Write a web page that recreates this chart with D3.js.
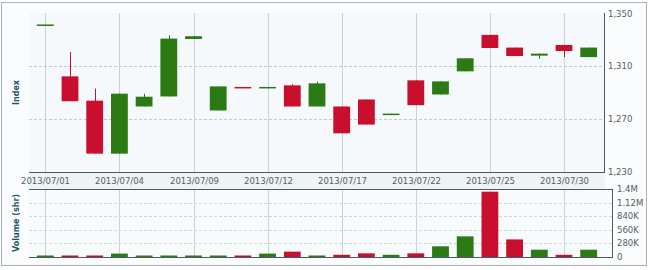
<!DOCTYPE html>
<html>
<head>
<meta charset="utf-8">
<script src="https://cdn.jsdelivr.net/npm/d3@7"></script>
<style>
  html, body { margin: 0; padding: 0; background: #fff; }
  svg { display: block; font-family: "DejaVu Sans", Verdana, sans-serif; }
</style>
</head>
<body>
<svg id="chart" width="650" height="270"></svg>
<script>
// trading days, July 2013
const dates = ['07/01','07/02','07/03','07/04','07/05','07/08','07/09','07/10','07/11','07/12',
  '07/15','07/16','07/17','07/18','07/19','07/22','07/23','07/24','07/25','07/26','07/29','07/30','07/31'];
const opens  = [1341.6,1302.4,1284.0,1243.9,1279.6,1287.2,1330.7,1276.6,1294.4,1294.2,
  1295.6,1279.6,1279.6,1284.9,1274.0,1299.4,1288.7,1306.2,1333.8,1324.2,1318.1,1326.2,1317.0];
const highs  = [1341.6,1320.8,1293.1,1289.3,1289.3,1333.5,1332.8,1294.8,1294.4,1294.4,
  1296.4,1298.4,1279.6,1284.9,1274.2,1299.4,1298.6,1316.1,1333.8,1324.2,1319.6,1326.2,1324.2];
const lows   = [1341.6,1283.6,1243.9,1243.9,1279.6,1287.2,1330.7,1276.6,1294.2,1294.2,
  1279.6,1279.6,1259.3,1265.9,1274.0,1280.6,1288.7,1306.2,1323.9,1317.8,1315.8,1317.0,1317.0];
const closes = [1341.7,1283.6,1243.9,1289.3,1287.0,1331.0,1332.8,1294.8,1294.2,1294.4,
  1279.6,1297.1,1259.3,1265.9,1274.2,1280.6,1298.6,1316.1,1323.9,1317.8,1319.6,1321.6,1324.2];
const volumes = [20e3,30e3,30e3,70e3,30e3,30e3,30e3,30e3,25e3,70e3,
  110e3,30e3,45e3,75e3,45e3,75e3,220e3,425e3,1345e3,362e3,150e3,45e3,150e3];

const priceTicks = [1230, 1270, 1310, 1350];
const volTicks = [0, 280e3, 560e3, 840e3, 1120e3, 1400e3];
const volLabels = ['0', '280K', '560K', '840K', '1.12M', '1.4M'];
const dateTicks = ['07/01','07/04','07/09','07/12','07/17','07/22','07/25','07/30'];

const RED = '#c8102e', GREEN = '#2b7a14';

const data = dates.map((d, i) => ({
  date: d, open: opens[i], high: highs[i], low: lows[i], close: closes[i], vol: volumes[i]
}));

const svg = d3.select('#chart');
const left = 29, right = 604, mainTop = 13, mainBot = 172, volTop = 189, volBot = 257, volRight = 612;

// frame + backgrounds
svg.append('rect').attr('x', 1.5).attr('y', 2.5).attr('width', 645).attr('height', 263)
  .attr('fill', '#fafcfd').attr('stroke', '#aab3b8');
svg.append('rect').attr('x', left).attr('y', mainTop).attr('width', right - left + 1).attr('height', mainBot - mainTop)
  .attr('fill', '#f5f9fb');
svg.append('rect').attr('x', left).attr('y', mainBot).attr('width', right - left + 1).attr('height', volTop - mainBot)
  .attr('fill', '#eef4f6');
svg.append('rect').attr('x', left).attr('y', volTop).attr('width', volRight - left).attr('height', volBot - volTop)
  .attr('fill', '#f8fbfc');

const x = d3.scaleBand().domain(dates).range([left, right + 1]).padding(0.32);
const y = d3.scaleLinear().domain([1230, 1350]).range([mainBot, mainTop + 0.5]);
const yv = d3.scaleLinear().domain([0, 1.4e6]).range([volBot, volTop]);
const cx = d => Math.round(x(d) + x.bandwidth() / 2) + 0.5;

// vertical grid
dateTicks.forEach(d => {
  svg.append('line').attr('x1', cx(d)).attr('x2', cx(d)).attr('y1', mainTop).attr('y2', mainBot)
    .attr('stroke', '#c6d3d9');
  svg.append('line').attr('x1', cx(d)).attr('x2', cx(d)).attr('y1', volTop).attr('y2', volBot)
    .attr('stroke', '#c6d3d9');
});

// horizontal dashed grid
priceTicks.slice(1, -1).forEach(v => {
  svg.append('line').attr('x1', left).attr('x2', right).attr('y1', Math.round(y(v)) + 0.5).attr('y2', Math.round(y(v)) + 0.5)
    .attr('stroke', '#c3cbcf').attr('stroke-dasharray', '3,2');
});
volTicks.slice(1, -1).forEach(v => {
  svg.append('line').attr('x1', left).attr('x2', volRight).attr('y1', Math.round(yv(v)) + 0.5).attr('y2', Math.round(yv(v)) + 0.5)
    .attr('stroke', '#d0d7da').attr('stroke-dasharray', '3,2');
});

// candles
const color = d => d.close >= d.open ? GREEN : RED;
const g = svg.append('g');
g.selectAll('line.wick').data(data).join('line')
  .attr('class', 'wick')
  .attr('x1', d => cx(d.date)).attr('x2', d => cx(d.date))
  .attr('y1', d => y(d.high)).attr('y2', d => y(d.low))
  .attr('stroke', color).attr('stroke-width', 1);
g.selectAll('rect.body').data(data).join('rect')
  .attr('class', 'body')
  .attr('x', d => x(d.date))
  .attr('width', x.bandwidth())
  .attr('y', d => y(Math.max(d.open, d.close)))
  .attr('height', d => Math.max(1.5, Math.abs(y(d.open) - y(d.close))))
  .attr('fill', color);

// volume bars
g.selectAll('rect.vol').data(data).join('rect')
  .attr('class', 'vol')
  .attr('x', d => x(d.date))
  .attr('width', x.bandwidth())
  .attr('y', d => Math.min(yv(d.vol), volBot - 1.5))
  .attr('height', d => Math.max(1.5, volBot - yv(d.vol)))
  .attr('fill', color);

// axis lines
const axisCol = '#4d5a60';
svg.append('line').attr('x1', left).attr('x2', right + 1).attr('y1', mainBot + 0.5).attr('y2', mainBot + 0.5).attr('stroke', axisCol);
svg.append('line').attr('x1', right + 0.5).attr('x2', right + 0.5).attr('y1', mainTop).attr('y2', mainBot + 1).attr('stroke', axisCol);
svg.append('line').attr('x1', left).attr('x2', volRight).attr('y1', volTop + 0.5).attr('y2', volTop + 0.5).attr('stroke', axisCol);
svg.append('line').attr('x1', left).attr('x2', volRight).attr('y1', volBot + 0.5).attr('y2', volBot + 0.5).attr('stroke', axisCol);
svg.append('line').attr('x1', volRight + 0.5).attr('x2', volRight + 0.5).attr('y1', volTop).attr('y2', volBot + 1).attr('stroke', axisCol);

// tick labels
const lab = { fill: '#555d61', 'font-size': '8.5px' };
dateTicks.forEach(d => {
  svg.append('text').attr('x', cx(d)).attr('y', 184).attr('text-anchor', 'middle')
    .attr('fill', lab.fill).attr('font-size', lab['font-size']).text('2013/' + d);
});
priceTicks.forEach(v => {
  svg.append('text').attr('x', right + 4).attr('y', y(v) + 3).attr('fill', lab.fill)
    .attr('font-size', lab['font-size']).text(d3.format(',')(v));
});
volTicks.forEach((v, i) => {
  svg.append('text').attr('x', volRight + 5).attr('y', yv(v) + 3).attr('fill', lab.fill)
    .attr('font-size', lab['font-size']).text(volLabels[i]);
});

// axis titles
svg.append('text').attr('transform', `translate(19,${(mainTop + mainBot) / 2}) rotate(-90)`)
  .attr('text-anchor', 'middle').attr('fill', '#1d5866').attr('font-size', '8px').attr('font-weight', 'bold')
  .text('Index');
svg.append('text').attr('transform', `translate(19,${(volTop + volBot) / 2}) rotate(-90)`)
  .attr('text-anchor', 'middle').attr('fill', '#1d5866').attr('font-size', '8px').attr('font-weight', 'bold')
  .text('Volume (shr)');
</script>
</body>
</html>
